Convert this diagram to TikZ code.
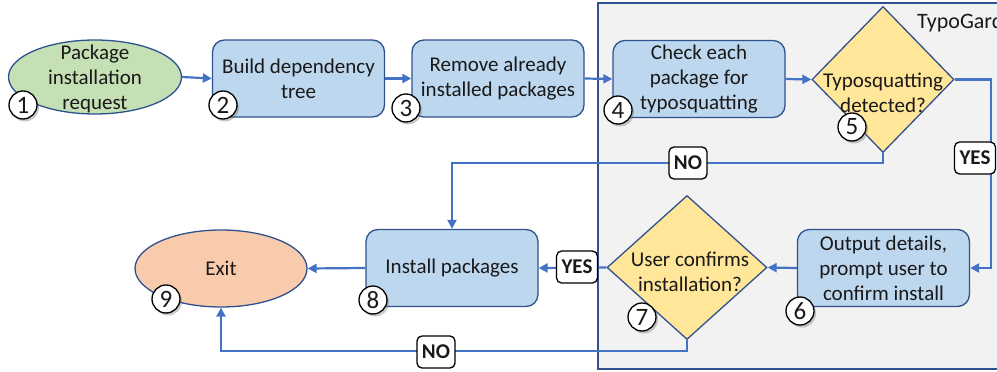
\documentclass[tikz,border=0pt]{standalone}
\usepackage{fontspec}
\setmainfont{Carlito}
\usetikzlibrary{shapes.geometric,arrows.meta,shadows}

\definecolor{flowline}{RGB}{68,114,196}
\definecolor{edgeblue}{RGB}{47,82,143}
\definecolor{boxfill}{RGB}{189,215,238}
\definecolor{startfill}{RGB}{197,224,180}
\definecolor{exitfill}{RGB}{248,203,173}
\definecolor{decisionfill}{RGB}{255,230,153}
\definecolor{panelfill}{RGB}{242,242,242}

\begin{document}
\begin{tikzpicture}[x=1pt,y=-1pt,
  every node/.style={font=\fontsize{21}{25}\selectfont, text=black!90},
  procbox/.style={draw=edgeblue, line width=1.3pt, fill=boxfill, rounded corners=12pt,
    minimum width=172pt, minimum height=77pt, inner sep=0pt, align=center},
  oval/.style={ellipse, draw=edgeblue, line width=1.3pt, minimum width=173pt,
    minimum height=74pt, inner sep=0pt},
  decision/.style={diamond, draw=edgeblue, line width=1.3pt, fill=decisionfill,
    inner sep=0pt},
  txt/.style={align=center, inner sep=0pt},
  numdot/.style={circle, draw=black, line width=1.3pt, fill=white, minimum size=28pt,
    inner sep=0pt, font=\fontsize{25}{25}\selectfont,
    drop shadow={shadow xshift=2pt, shadow yshift=-2.5pt, opacity=0.35, fill=black!60}},
  tag/.style={draw=black, line width=1.3pt, fill=white, rounded corners=5pt,
    font=\fontsize{21}{25}\selectfont\bfseries, minimum height=32pt, inner xsep=5pt,
    inner ysep=0pt},
  arr/.style={draw=flowline, line width=2.2pt, -{Triangle[length=9pt,width=9pt]}}
]
\useasboundingbox (0,0) rectangle (997,372);
\clip (0,0) rectangle (997,372);

% TypoGard panel
\draw[draw=edgeblue, line width=1.3pt, fill=panelfill] (598,3) rectangle (1020,369);
\node[anchor=base west, inner sep=0pt, font=\fontsize{22}{25}\selectfont] (panel) at (917,28) {TypoGard};

% shapes
\node[oval, fill=startfill] (req) at (95,77) {};
\node[txt] (reqtext) at (95,79) {Package\\installation\\request};
\node[procbox] (build) at (298.5,78.5) {Build dependency\\tree};
\node[procbox] (remove) at (498,78.5) {Remove already\\installed packages};
\node[procbox] (check) at (699,79) {Check each\\package for\\typosquatting};
\node[decision, minimum width=142pt, minimum height=146pt] (typo) at (883,79.5) {};
\node[txt] (typotext) at (883,93) {Typosquatting\\detected?};
\node[procbox] (prompt) at (883.5,268) {Output details,\\prompt user to\\confirm install};
\node[decision, minimum width=160pt, minimum height=144pt] (confirm) at (687,267.5) {};
\node[txt] (confirmtext) at (690,272) {User confirms\\installation?};
\node[procbox] (install) at (452,268) {Install packages};
\node[oval, fill=exitfill, minimum width=172pt, minimum height=77pt] (exit) at (221,268.5) {Exit};

% helper coordinates for the routed connectors
\coordinate (yescol) at (991,0);
\coordinate (norow) at (0,163);
\coordinate (backrow) at (0,351);

% connectors
\draw[arr] (req.east) -- (build.west);
\draw[arr] (build.east) -- (remove.west);
\draw[arr] (remove.east) -- (check.west);
\draw[arr] (check.east) -- (typo.west);
\draw[arr] (typo.east) -| (yescol |- prompt.east) -- (prompt.east);
\draw[arr] (typo.south) |- (norow -| install.north) -- (install.north);
\draw[arr] (prompt.west) -- (confirm.east);
\draw[arr] (confirm.west) -- (install.east);
\draw[arr] (install.west) -- (exit.east);
\draw[arr] (confirm.south) |- (backrow -| exit.south) -- (exit.south);

% branch tags
\node[tag] (yes1) at (975,158) {YES};
\node[tag] (no1) at (688,163) {NO};
\node[tag] (yes2) at (577,267) {YES};
\node[tag] (no2) at (436,352) {NO};

% step numbers
\node[numdot] (c1) at (23,105) {1};
\node[numdot] (c2) at (223,105) {2};
\node[numdot] (c3) at (406,108) {3};
\node[numdot] (c4) at (618,110) {4};
\node[numdot] (c5) at (852,127) {5};
\node[numdot] (c6) at (800,311) {6};
\node[numdot] (c7) at (642,317) {7};
\node[numdot] (c8) at (373,300) {8};
\node[numdot] (c9) at (166,299) {9};
\end{tikzpicture}
\end{document}
